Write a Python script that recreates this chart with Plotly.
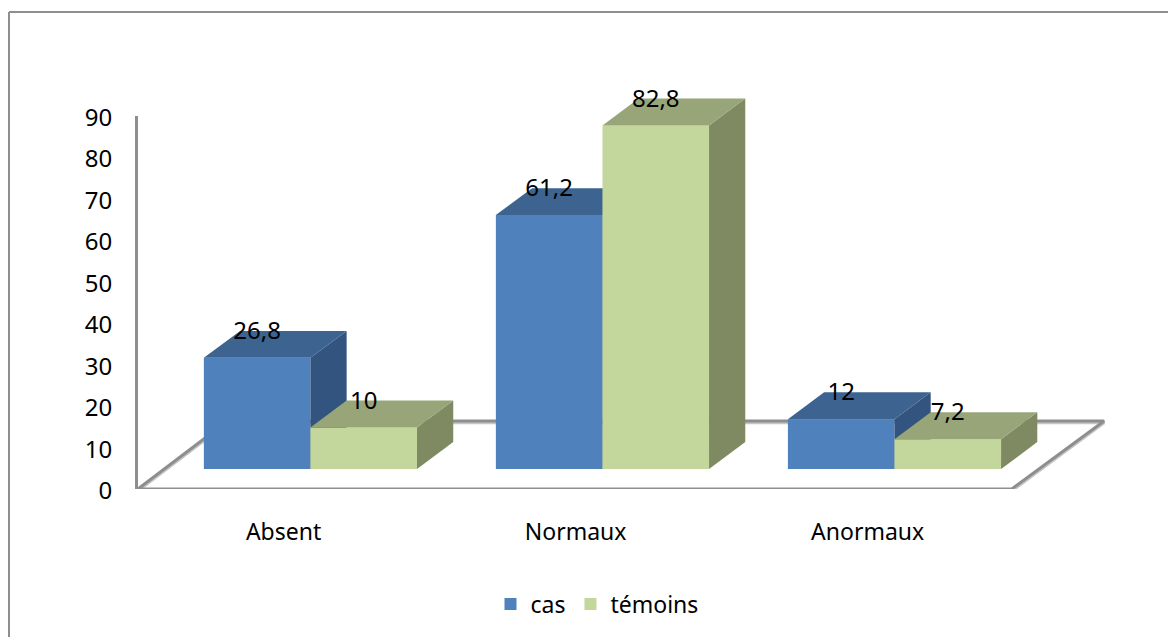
import plotly.graph_objects as go

categories = ["Absent", "Normaux", "Anormaux"]
series_names = ["cas", "témoins"]
cas = [26.8, 61.2, 12]
temoins = [10, 82.8, 7.2]
y_ticks = [0, 10, 20, 30, 40, 50, 60, 70, 80, 90]

# pseudo-3D styling (in axis units)
BAR_W = 0.365
BASE = 4.8
DX = 0.124
DY = 6.5
LABEL_SHIFT = 0.092
X_RANGE = [-0.5905, 2.738]
Y_RANGE = [0, 90]
Y_RANGE_TALL = [0, 100]
FLOOR_X = [-0.284, 2.718, 2.402, -0.5905]
FLOOR_Y = [16.4, 16.4, 0, 0]
SHADOW = 0.45

FONT = "Noto Sans"
FS = 23
FS_NUM = 24
GRAY = "#8e8e8e"
LIGHT = "#c6c6c6"
COL = {
    "cas": ("#4f81bd", "#3d6491", "#32547f"),
    "tem": ("#c3d69b", "#98a578", "#7f8a62"),
}

W, H = 1168, 637
ML, MR, MT, MB = 138, 58, 74, 148
PW, PH = W - ML - MR, H - MT - MB


def comma(v):
    return str(v).replace(".", ",")


fig = go.Figure()

# floor drawn on base axes, under everything else
fig.add_trace(go.Scatter(x=FLOOR_X + FLOOR_X[:1], y=[v - SHADOW for v in FLOOR_Y + FLOOR_Y[:1]], mode="lines",
                         line=dict(color=LIGHT, width=3), showlegend=False, hoverinfo="skip"))
fig.add_trace(go.Scatter(x=FLOOR_X + FLOOR_X[:1], y=FLOOR_Y + FLOOR_Y[:1], mode="lines",
                         line=dict(color=GRAY, width=3), showlegend=False, hoverinfo="skip"))


def add_series(name, values, offset, cols, xa, ya):
    fig.add_trace(go.Bar(x=list(range(len(values))), y=values, base=BASE, width=BAR_W, offset=offset,
                         name=name, marker=dict(color=cols[0], line=dict(width=0)),
                         xaxis=xa, yaxis=ya))
    for i, v in enumerate(values):
        left = i + offset
        right = left + BAR_W
        top = BASE + v
        # side face
        fig.add_trace(go.Scatter(
            x=[right, right + DX, right + DX, right, right],
            y=[BASE, BASE + DY, top + DY, top, BASE],
            mode="lines", fill="toself", fillcolor=cols[2], line=dict(width=0),
            showlegend=False, hoverinfo="skip", xaxis=xa, yaxis=ya))
        # top face
        fig.add_trace(go.Scatter(
            x=[left, left + DX, right + DX, right, left],
            y=[top, top + DY, top + DY, top, top],
            mode="lines", fill="toself", fillcolor=cols[1], line=dict(width=0),
            showlegend=False, hoverinfo="skip", xaxis=xa, yaxis=ya))


add_series(series_names[0], cas, -BAR_W, COL["cas"], "x2", "y2")
add_series(series_names[1], temoins, 0, COL["tem"], "x3", "y3")

# data labels, above all faces
for values, offset in ((cas, -BAR_W), (temoins, 0)):
    fig.add_trace(go.Scatter(
        x=[i + offset + BAR_W / 2 for i in range(len(values))],
        y=[BASE + v + DY - 0.5 for v in values],
        text=[comma(v) for v in values],
        mode="text", textposition="middle center",
        textfont=dict(family=FONT, size=FS_NUM, color="#000000"),
        showlegend=False, hoverinfo="skip", xaxis="x3", yaxis="y3"))


def px_x(p):
    return (p - ML) / PW


def px_y(p):
    return (H - MB - p) / PH


frame = [(9, 640, 9, 12), (9, 12, 1170, 12)]
shapes = [dict(type="line", xref="paper", yref="paper", x0=px_x(a), y0=px_y(b), x1=px_x(c), y1=px_y(d),
               line=dict(color=GRAY, width=2), layer="below") for a, b, c, d in frame]

hidden = dict(range=X_RANGE, visible=False, fixedrange=True)
hiddeny = dict(range=Y_RANGE_TALL, domain=[0, 1], visible=False, fixedrange=True)

fig.update_layout(
    width=W, height=H, autosize=False,
    margin=dict(l=ML, r=MR, t=MT, b=MB, pad=0),
    paper_bgcolor="white", plot_bgcolor="rgba(0,0,0,0)",
    font=dict(family=FONT, size=FS, color="#000000"),
    barmode="overlay",
    shapes=shapes,
    xaxis=dict(range=X_RANGE, tickvals=[i - LABEL_SHIFT for i in range(len(categories))],
               ticktext=categories, showgrid=False, zeroline=False, showline=False,
               ticks="", ticklabelstandoff=27, tickfont=dict(family=FONT, size=FS), fixedrange=True),
    yaxis=dict(range=Y_RANGE, domain=[0, 0.9], tickvals=y_ticks, showgrid=False, zeroline=False, showline=True,
               linecolor=GRAY, linewidth=3, ticks="", ticklabelstandoff=18, ticklabelshift=2,
               tickfont=dict(family=FONT, size=FS_NUM), fixedrange=True),
    xaxis2=dict(anchor="y2", **hidden), yaxis2=dict(anchor="x2", **hiddeny),
    xaxis3=dict(anchor="y3", **hidden), yaxis3=dict(anchor="x3", **hiddeny),
    legend=dict(orientation="h", x=px_x(597), y=px_y(604), xanchor="center", yanchor="middle",
                font=dict(family=FONT, size=FS), bgcolor="rgba(0,0,0,0)"),
)

fig.write_html("out.html", config={"displayModeBar": False},
               post_script="document.body.style.margin='0';")
